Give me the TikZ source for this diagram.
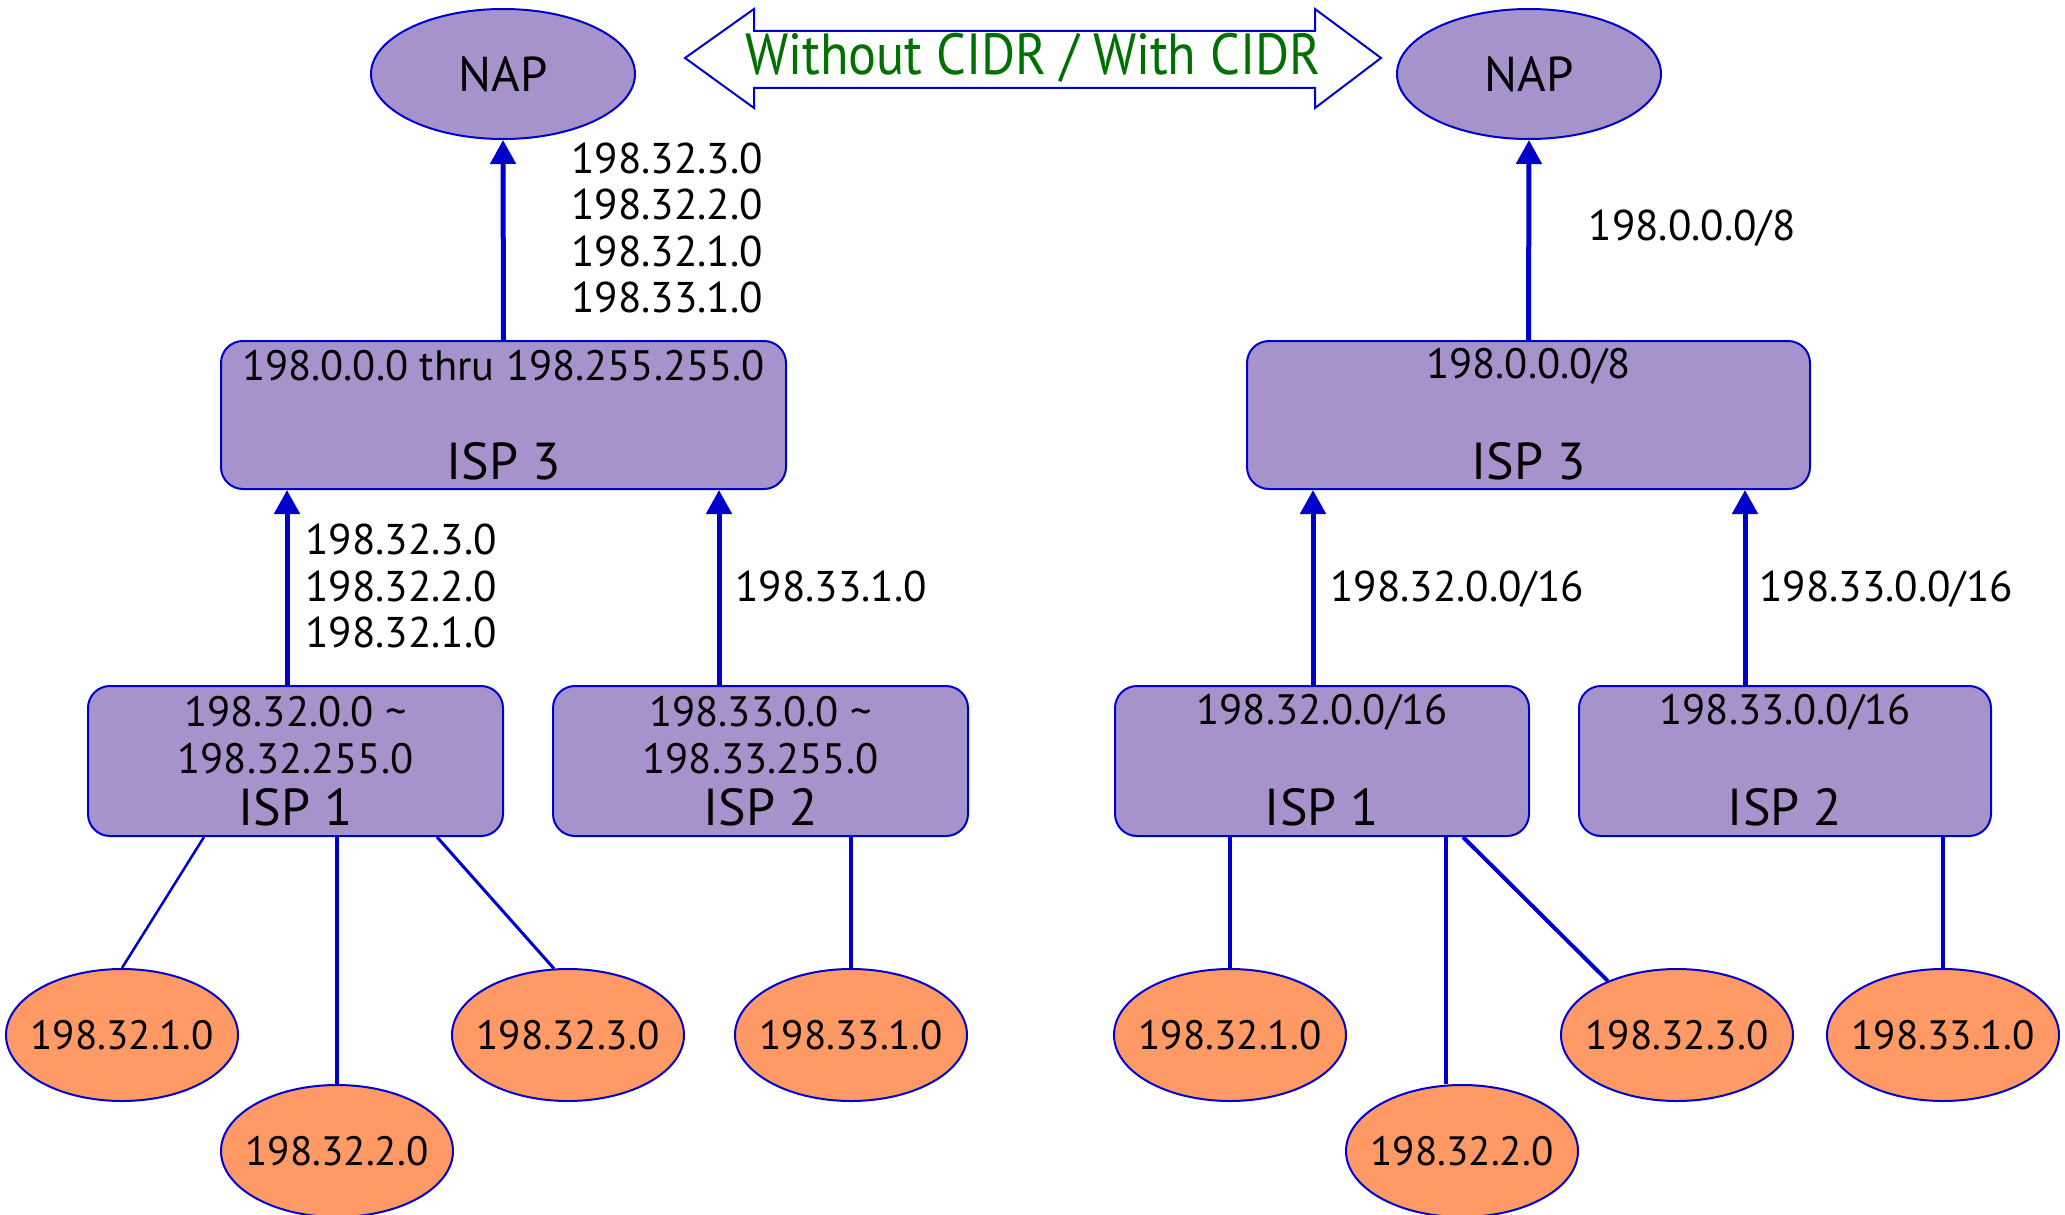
\documentclass[tikz,border=0pt]{standalone}
\usepackage{fontspec}
\setmainfont{PT Sans}
\newfontfamily\hdrfont[FakeStretch=0.9]{PT Sans}
\usetikzlibrary{arrows.meta,shapes.geometric}
\definecolor{pur}{RGB}{166,147,204}
\definecolor{org}{RGB}{255,153,102}
\definecolor{edgec}{RGB}{0,0,204}
\definecolor{grn}{RGB}{0,112,0}
\begin{document}
\begin{tikzpicture}[x=1pt,y=-1pt,
  nap/.style={ellipse,draw=edgec,line width=2pt,fill=pur,minimum width=264pt,minimum height=130pt,inner ysep=0pt,inner xsep=-40pt,font=\fontsize{49}{55}\selectfont},
  net/.style={ellipse,draw=edgec,line width=2pt,fill=org,minimum width=232pt,minimum height=132pt,inner ysep=0pt,inner xsep=-70pt,font=\fontsize{41}{46}\selectfont},
  isp/.style={draw=edgec,line width=2pt,fill=pur,rounded corners=22pt,inner sep=0pt},
  boxtxt/.style={font=\fontsize{42.5}{47}\selectfont,inner sep=0pt,align=center},
  isptxt/.style={font=\fontsize{52}{56}\selectfont,inner sep=0pt},
  lbl/.style={font=\fontsize{43}{46.5}\selectfont,inner sep=0pt,align=center},
  up/.style={line width=5pt,draw=edgec,-{Triangle[width=25pt,length=24pt]}},
  link/.style={line width=4pt,draw=edgec},
]
\useasboundingbox (0,0) rectangle (2065,1215);

% double arrow header
\draw[draw=edgec,line width=2pt,fill=white] (685,58) -- (754,9) -- (754,31) -- (1315,31) -- (1315,9) -- (1381,58) -- (1315,108) -- (1315,88) -- (754,88) -- (754,108) -- cycle;
\node[font=\hdrfont\fontsize{58}{62}\selectfont,text=grn,inner sep=0pt] (hdr) at (1033,58) {Without CIDR / With CIDR};

% ---------- left: without CIDR ----------
\node[nap] (lnap) at (503,74) {NAP};
\node[isp,minimum width=565pt,minimum height=148pt] (l3) at (503.5,415) {};
\node[boxtxt] (l3a) at (503.5,366) {198.0.0.0 thru 198.255.255.0};
\node[isptxt] (l3b) at (503.5,461) {ISP 3};

\node[isp,minimum width=415pt,minimum height=150pt] (l1) at (295.5,761) {};
\node[boxtxt] (l1a) at (295.5,735) {198.32.0.0 \textasciitilde\\198.32.255.0};
\node[isptxt] (l1b) at (295.5,807) {ISP 1};

\node[isp,minimum width=415pt,minimum height=150pt] (l2) at (760.5,761) {};
\node[boxtxt] (l2a) at (760.5,735) {198.33.0.0 \textasciitilde\\198.33.255.0};
\node[isptxt] (l2b) at (760.5,807) {ISP 2};

\node[net] (le1) at (122,1035) {198.32.1.0};
\node[net] (le2) at (337,1151) {198.32.2.0};
\node[net] (le3) at (568,1035) {198.32.3.0};
\node[net] (le4) at (851,1035) {198.33.1.0};

\draw[up] (l3.north) -- (lnap.south);
\draw[up] ([xshift=-8.5pt]l1.north) -- ([xshift=-8.5pt]l1.north |- l3.south);
\draw[up] ([xshift=-41.5pt]l2.north) -- ([xshift=-41.5pt]l2.north |- l3.south);

\draw[link,line width=2.5pt] ([xshift=-91.5pt]l1.south) -- (le1.north);
\draw[link] (l1.south -| le2.north) -- (le2.north);
\draw[link,line width=3pt] ([xshift=141.5pt]l1.south) -- (le3.102);
\draw[link] (l2.south -| le4.north) -- (le4.north);

\node[lbl] (lab1) at (667,228) {198.32.3.0\\198.32.2.0\\198.32.1.0\\198.33.1.0};
\node[lbl] (lab2) at (401,586) {198.32.3.0\\198.32.2.0\\198.32.1.0};
\node[lbl] (lab3) at (831,586) {198.33.1.0};

% ---------- right: with CIDR ----------
\node[nap] (rnap) at (1529,74) {NAP};
\node[isp,minimum width=563pt,minimum height=148pt] (r3) at (1528.5,415) {};
\node[boxtxt] (r3a) at (1528.5,366) {198.0.0.0/8};
\node[isptxt] (r3b) at (1528.5,461) {ISP 3};

\node[isp,minimum width=414pt,minimum height=150pt] (r1) at (1322,761) {};
\node[boxtxt] (r1a) at (1322,712) {198.32.0.0/16};
\node[isptxt] (r1b) at (1322,807) {ISP 1};

\node[isp,minimum width=412pt,minimum height=150pt] (r2) at (1785,761) {};
\node[boxtxt] (r2a) at (1785,712) {198.33.0.0/16};
\node[isptxt] (r2b) at (1785,807) {ISP 2};

\node[net] (re1) at (1230,1035) {198.32.1.0};
\node[net] (re2) at (1462,1151) {198.32.2.0};
\node[net] (re3) at (1677,1035) {198.32.3.0};
\node[net] (re4) at (1943,1035) {198.33.1.0};

\draw[up] (r3.north) -- (rnap.south);
\draw[up] ([xshift=-9pt]r1.north) -- ([xshift=-9pt]r1.north |- r3.south);
\draw[up] ([xshift=-40pt]r2.north) -- ([xshift=-40pt]r2.north |- r3.south);

\draw[link] (r1.south -| re1.north) -- (re1.north);
\draw[link] ([xshift=124pt]r1.south) -- ([xshift=-16pt]re2.north);
\draw[link] ([xshift=141pt]r1.south) -- (re3.142);
\draw[link] (r2.south -| re4.north) -- (re4.north);

\node[lbl] (rlab1) at (1692,228) {198.0.0.0/8};
\node[lbl] (rlab2) at (1457,589) {198.32.0.0/16};
\node[lbl] (rlab3) at (1886,589) {198.33.0.0/16};
\end{tikzpicture}
\end{document}
